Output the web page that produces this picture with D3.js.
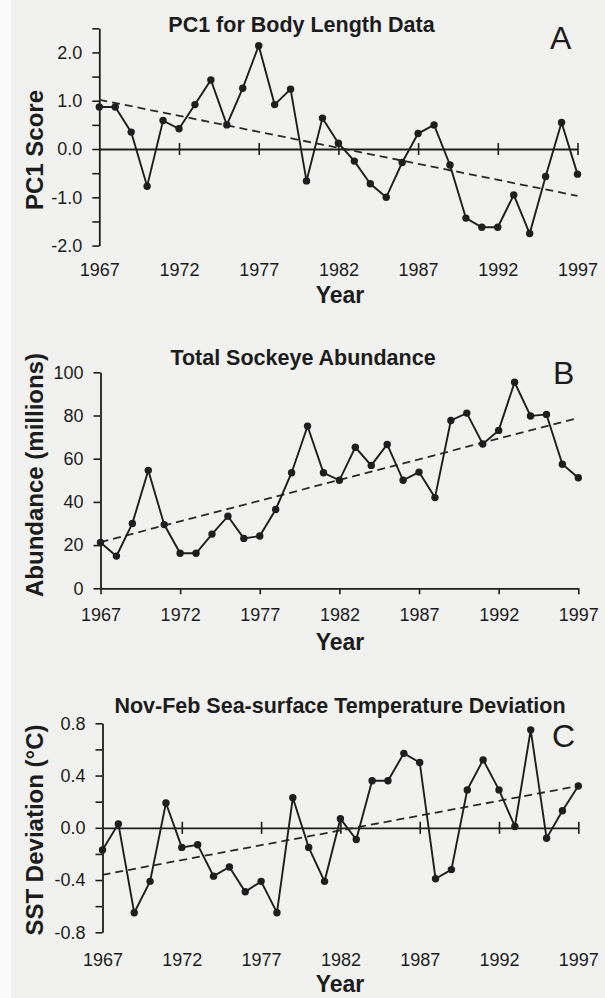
<!DOCTYPE html>
<html><head><meta charset="utf-8">
<script src="https://cdn.jsdelivr.net/npm/d3@7"></script>
<style>
body{margin:0;background:#fff}
svg{display:block}
text{font-family:"Liberation Sans",Arial,Helvetica,sans-serif;fill:#1c1c1c}
</style>
</head><body><svg id="chart" width="605" height="998"></svg>
<script>
// ---------------- data ----------------
const years = [1967,1968,1969,1970,1971,1972,1973,1974,1975,1976,1977,1978,1979,1980,1981,1982,
               1983,1984,1985,1986,1987,1988,1989,1990,1991,1992,1993,1994,1995,1996,1997];
const xTickYears = [1967,1972,1977,1982,1987,1992,1997];
const trendYears = [1967,1997];

const pc1Scores = [0.87,0.87,0.35,-0.77,0.59,0.42,0.92,1.43,0.50,1.26,2.14,0.92,1.24,-0.66,0.64,0.12,
                   -0.25,-0.72,-1.00,-0.28,0.32,0.50,-0.33,-1.43,-1.62,-1.62,-0.95,-1.75,-0.57,0.55,-0.52];
const pc1Trend = [1.02,-0.97];
const pc1TickValues = [-2,-1.5,-1,-0.5,0,0.5,1,1.5,2,2.5];
const pc1TickLabels = [-2,-1,0,1,2];

const abundance = [21.2,14.9,30.0,54.6,29.5,16.2,16.2,25.1,33.4,23.1,24.2,36.5,53.5,75.1,53.5,50.0,
                   65.3,56.9,66.6,50.0,53.8,42.0,77.7,81.1,66.8,73.1,95.4,79.8,80.5,57.4,51.2];
const abundanceTrend = [21.4,78.9];
const abundanceTickValues = [0,20,40,60,80,100];
const abundanceTickLabels = [0,20,40,60,80,100];

const sstDeviation = [-0.17,0.03,-0.65,-0.41,0.19,-0.15,-0.13,-0.37,-0.30,-0.49,-0.41,-0.65,0.23,-0.15,-0.41,0.07,
                      -0.09,0.36,0.36,0.57,0.50,-0.39,-0.32,0.29,0.52,0.29,0.01,0.75,-0.08,0.13,0.32];
const sstTrend = [-0.36,0.32];
const sstTickValues = [-0.8,-0.6,-0.4,-0.2,0,0.2,0.4,0.6,0.8];
const sstTickLabels = [-0.8,-0.4,0,0.4,0.8];

const titles = ["PC1 for Body Length Data","Total Sockeye Abundance","Nov-Feb Sea-surface Temperature Deviation"];
const yAxisLabels = ["PC1 Score","Abundance (millions)","SST Deviation (\u00B0C)"];
const panelLetters = ["A","B","C"];
const xAxisLabel = "Year";

// ---------------- layout ----------------
const panels = [
  {values:pc1Scores, trend:pc1Trend, ticks:pc1TickValues, labels:pc1TickLabels, fmt:d=>d.toFixed(1),
   domain:[-2,2.5], x0:99.3, x1:577.5, yTop:28.3, yBot:245.6, cross:true,
   titleX:301.5, titleY:32, letterX:550, letterY:49.3, tickY:276, yearY:303, ylabY:150},
  {values:abundance, trend:abundanceTrend, ticks:abundanceTickValues, labels:abundanceTickLabels, fmt:d=>String(d),
   domain:[0,100], x0:100.5, x1:578.3, yTop:372.3, yBot:588.3, cross:false,
   titleX:303, titleY:365, letterX:553, letterY:384, tickY:621, yearY:650, ylabY:475},
  {values:sstDeviation, trend:sstTrend, ticks:sstTickValues, labels:sstTickLabels, fmt:d=>d.toFixed(1),
   domain:[-0.8,0.8], x0:102.5, x1:578.3, yTop:723.3, yBot:932.3, cross:true,
   titleX:340, titleY:712.7, letterX:552, letterY:746.7, tickY:966, yearY:992, ylabY:830}
];

const ink = "#1e1e1e";
const svg = d3.select("#chart");
svg.append("rect").attr("width",605).attr("height",998).attr("fill","#f1f1ef");
svg.append("rect").attr("width",11).attr("height",998).attr("fill","#fafafa");

panels.forEach((p,i)=>{
  const g = svg.append("g");
  const x = d3.scaleLinear().domain([1967,1997]).range([p.x0,p.x1]);
  const y = d3.scaleLinear().domain(p.domain).range([p.yBot,p.yTop]);

  // y axis
  const ya = g.append("g").attr("transform",`translate(${p.x0},0)`)
    .call(d3.axisLeft(y).tickValues(p.ticks).tickSize(7).tickSizeOuter(0).tickPadding(10)
      .tickFormat(d => p.labels.some(l=>Math.abs(l-d)<1e-9) ? p.fmt(d) : ""));
  ya.select(".domain").attr("stroke",ink).attr("stroke-width",1.8);
  ya.selectAll(".tick line").attr("stroke",ink).attr("stroke-width",1.6);
  ya.selectAll(".tick text").attr("font-size",18).attr("fill","#222")
    .attr("font-family",'"Liberation Sans",Arial,sans-serif');

  // x axis line (zero line / bottom) with ticks
  const baseY = p.cross ? y(0) : y(p.domain[0]);
  const xa = g.append("g").attr("transform",`translate(0,${baseY})`)
    .call(d3.axisBottom(x).tickValues(p.cross ? xTickYears.slice(1) : xTickYears)
      .tickSize(6).tickSizeOuter(0).tickFormat(""));
  xa.select(".domain").attr("stroke",ink).attr("stroke-width",1.8);
  xa.selectAll(".tick line").attr("stroke",ink).attr("stroke-width",1.6);
  if (p.cross) xa.selectAll(".tick line").attr("y1",-6).attr("y2",6);

  // x tick labels
  const xl = g.append("g").attr("transform",`translate(0,${p.tickY})`)
    .call(d3.axisBottom(x).tickValues(xTickYears).tickSize(0).tickFormat(d3.format("d")));
  xl.select(".domain").remove();
  xl.selectAll(".tick text").attr("y",0).attr("dy",null).attr("font-size",18).attr("fill","#222")
    .attr("font-family",'"Liberation Sans",Arial,sans-serif');

  // trend line
  const line = d3.line().x(d=>x(d[0])).y(d=>y(d[1]));
  g.append("path").datum(trendYears.map((yr,k)=>[yr,p.trend[k]]))
    .attr("d",line).attr("fill","none").attr("stroke","#2a2a2a")
    .attr("stroke-width",1.8).attr("stroke-dasharray","8,5");

  // data line
  const pts = years.map((yr,k)=>[yr,p.values[k]]);
  g.append("path").datum(pts).attr("d",line).attr("fill","none")
    .attr("stroke",ink).attr("stroke-width",1.9).attr("stroke-linejoin","miter");
  g.selectAll("circle").data(pts).join("circle")
    .attr("cx",d=>x(d[0])).attr("cy",d=>y(d[1])).attr("r",3.7).attr("fill",ink);

  // texts
  g.append("text").attr("x",p.titleX).attr("y",p.titleY).attr("text-anchor","middle")
    .attr("font-size",21.5).attr("font-weight","bold").text(titles[i]);
  g.append("text").attr("x",p.letterX).attr("y",p.letterY)
    .attr("font-size",32).text(panelLetters[i]);
  g.append("text").attr("transform",`translate(35,${p.ylabY}) rotate(-90)`).attr("dy","0.35em")
    .attr("text-anchor","middle").attr("font-size",24).attr("font-weight","bold").text(yAxisLabels[i]);
  g.append("text").attr("x",340).attr("y",p.yearY).attr("text-anchor","middle")
    .attr("font-size",23).attr("font-weight","bold").text(xAxisLabel);
});
</script>
</body></html>
